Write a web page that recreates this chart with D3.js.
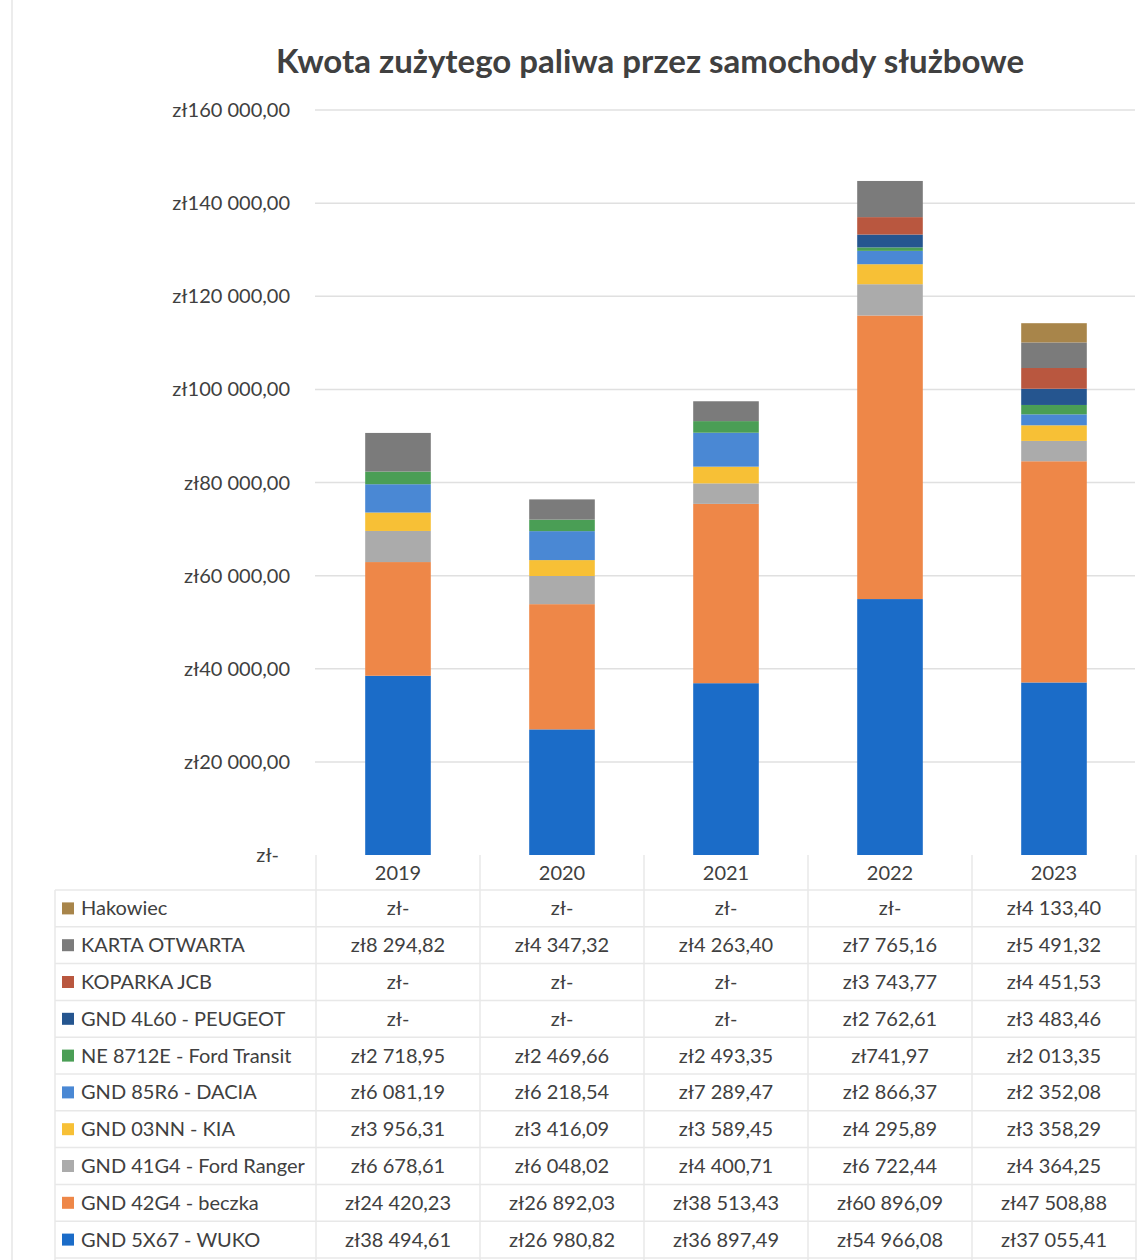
<!DOCTYPE html>
<html>
<head>
<meta charset="utf-8">
<script src="https://cdn.jsdelivr.net/npm/d3@7"></script>
<style>
  body { margin: 0; background: #fff; }
  svg text { font-family: Lato, "Open Sans", sans-serif; fill: #404040; }
</style>
</head>
<body>
<div id="chart"></div>
<script>
var years = ["2019", "2020", "2021", "2022", "2023"];

// bottom of the stack first
var seriesNames = [
  "GND 5X67 - WUKO",
  "GND 42G4 - beczka",
  "GND 41G4 - Ford Ranger",
  "GND 03NN - KIA",
  "GND 85R6 - DACIA",
  "NE 8712E - Ford Transit",
  "GND 4L60 - PEUGEOT",
  "KOPARKA JCB",
  "KARTA OTWARTA",
  "Hakowiec"
];

var wuko = [38494.61, 26980.82, 36897.49, 54966.08, 37055.41];
var beczka = [24420.23, 26892.03, 38513.43, 60896.09, 47508.88];
var fordRanger = [6678.61, 6048.02, 4400.71, 6722.44, 4364.25];
var kia = [3956.31, 3416.09, 3589.45, 4295.89, 3358.29];
var dacia = [6081.19, 6218.54, 7289.47, 2866.37, 2352.08];
var fordTransit = [2718.95, 2469.66, 2493.35, 741.97, 2013.35];
var peugeot = [0, 0, 0, 2762.61, 3483.46];
var koparka = [0, 0, 0, 3743.77, 4451.53];
var karta = [8294.82, 4347.32, 4263.40, 7765.16, 5491.32];
var hakowiec = [0, 0, 0, 0, 4133.40];

var seriesValues = [wuko, beczka, fordRanger, kia, dacia, fordTransit, peugeot, koparka, karta, hakowiec];
var seriesColors = ["#1b6cc8", "#ee8748", "#ababab", "#f7c036", "#4a88d4",
                    "#4a9e55", "#25558f", "#b9573f", "#7b7b7b", "#a8854a"];

var yTicks = [0, 20000, 40000, 60000, 80000, 100000, 120000, 140000, 160000];

var width = 1147, height = 1260;

var pl = d3.formatLocale({decimal: ",", thousands: " ", grouping: [3], currency: ["zł", ""]});
var money = pl.format("$,.2f");
function zl(v) { return v === 0 ? "zł-" : money(v); }

var svg = d3.select("#chart").append("svg")
    .attr("width", width)
    .attr("height", height);

// faint scan edge on the left
svg.append("line")
    .attr("x1", 12).attr("x2", 12).attr("y1", 0).attr("y2", height)
    .attr("stroke", "#ececec").attr("stroke-width", 2);

svg.append("text")
    .attr("x", 650).attr("y", 73)
    .attr("text-anchor", "middle")
    .style("font-size", "33px")
    .style("font-weight", "bold")
    .text("Kwota zużytego paliwa przez samochody służbowe");

var y = d3.scaleLinear().domain([0, 160000]).range([855, 110]);

var x = d3.scaleBand().domain(years).range([316, 1136])
    .paddingInner(0.6).paddingOuter(0.3);

var col = d3.scaleBand().domain(years).range([316, 1136]);

// gridlines
svg.append("g").selectAll("line")
    .data(yTicks.filter(function (d) { return d > 0; }))
    .enter().append("line")
    .attr("x1", 315).attr("x2", 1135)
    .attr("y1", function (d) { return y(d); })
    .attr("y2", function (d) { return y(d); })
    .attr("stroke", "#e0e0e0").attr("stroke-width", 1.5);

// y labels
svg.append("g").selectAll("text")
    .data(yTicks)
    .enter().append("text")
    .attr("x", function (d) { return d === 0 ? 279 : 290; })
    .attr("y", function (d) { return y(d); })
    .attr("dy", "0.35em")
    .attr("text-anchor", "end")
    .style("font-size", "20px")
    .text(zl);

// stacks
var rows = years.map(function (yr, i) {
    var r = {year: yr};
    seriesNames.forEach(function (s, k) { r[s] = seriesValues[k][i]; });
    return r;
});
var stacked = d3.stack().keys(seriesNames)(rows);

svg.append("g").selectAll("g")
    .data(stacked)
    .enter().append("g")
    .attr("fill", function (d, k) { return seriesColors[k]; })
    .selectAll("rect")
    .data(function (d) { return d; })
    .enter().append("rect")
    .attr("x", function (d) { return x(d.data.year); })
    .attr("width", x.bandwidth())
    .attr("y", function (d) { return y(d[1]); })
    .attr("height", function (d) { return y(d[0]) - y(d[1]); });

// data table
var rowTop = 890, rowH = 36.8;
var tableRows = seriesNames.slice().reverse();
var grid = svg.append("g").attr("stroke", "#e8e8e8").attr("stroke-width", 1.5);

// vertical lines
col.domain().forEach(function (yr) {
    grid.append("line")
        .attr("x1", col(yr)).attr("x2", col(yr))
        .attr("y1", 855).attr("y2", height);
});
grid.append("line")
    .attr("x1", 1136).attr("x2", 1136).attr("y1", 855).attr("y2", height);

// horizontal lines
d3.range(tableRows.length + 1).forEach(function (i) {
    grid.append("line")
        .attr("x1", 55).attr("x2", 1136)
        .attr("y1", rowTop + i * rowH).attr("y2", rowTop + i * rowH);
});
grid.append("line")
    .attr("x1", 55).attr("x2", 55).attr("y1", rowTop).attr("y2", height);

// year header
svg.append("g").selectAll("text")
    .data(years)
    .enter().append("text")
    .attr("x", function (d) { return col(d) + col.bandwidth() / 2; })
    .attr("y", 873)
    .attr("dy", "0.35em")
    .attr("text-anchor", "middle")
    .style("font-size", "20px")
    .text(function (d) { return d; });

var tr = svg.append("g").selectAll("g")
    .data(tableRows)
    .enter().append("g")
    .attr("transform", function (d, i) { return "translate(0," + (rowTop + i * rowH + rowH / 2) + ")"; });

tr.append("rect")
    .attr("x", 62).attr("y", -6).attr("width", 12).attr("height", 12)
    .attr("fill", function (d) { return seriesColors[seriesNames.indexOf(d)]; });

tr.append("text")
    .attr("x", 81).attr("dy", "0.35em")
    .style("font-size", "20px")
    .text(function (d) { return d; });

tr.selectAll("text.val")
    .data(function (d) {
        var k = seriesNames.indexOf(d);
        return years.map(function (yr, i) { return {year: yr, v: seriesValues[k][i]}; });
    })
    .enter().append("text")
    .attr("class", "val")
    .attr("x", function (d) { return col(d.year) + col.bandwidth() / 2; })
    .attr("dy", "0.35em")
    .attr("text-anchor", "middle")
    .style("font-size", "20px")
    .text(function (d) { return zl(d.v); });
</script>
</body>
</html>
